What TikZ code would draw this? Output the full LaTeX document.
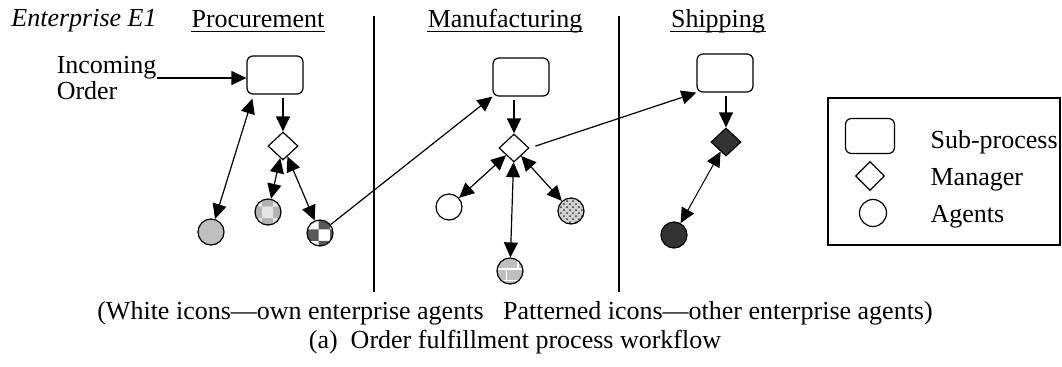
\documentclass[tikz,border=0pt]{standalone}
\usepackage{fontspec}
\setmainfont{Liberation Serif}
\usetikzlibrary{arrows.meta, positioning, shapes.geometric, patterns}

\begin{document}
\begin{tikzpicture}[x=0.5pt, y=-0.5pt, line width=0.6pt,
    font=\fontsize{13}{13}\selectfont,
    arr/.style={-{Triangle[length=7.5pt,width=7pt]}},
    darr/.style={{Triangle[length=7.5pt,width=7pt]}-{Triangle[length=7.5pt,width=7pt]}},
    subproc/.style={draw, rounded corners=3pt, minimum width=28pt, minimum height=19pt, inner sep=0pt},
    manager/.style={draw, diamond, minimum width=15pt, minimum height=14pt, inner sep=0pt},
    agent/.style={draw, circle, minimum size=13pt, inner sep=0pt},
    head/.style={anchor=base, inner sep=0pt}]

    \useasboundingbox (0,0) rectangle (1062,366);

    % Headings
    \node[head, font=\fontsize{13}{13}\selectfont\itshape] (ent) at (84,26) {Enterprise E1};
    \node[head] (proc) at (258,27) {Procurement};
    \node[head] (manu) at (505,27) {Manufacturing};
    \node[head] (ship) at (718,27) {Shipping};
    \foreach \n in {proc, manu, ship}
    \draw[line width=0.5pt] ([yshift=-2.2pt]\n.base west) -- ([yshift=-2.2pt]\n.base east);

    % Lanes
    \draw (374,16) -- (374,292);
    \draw (619,16) -- (619,292);

    % Procurement
    \node[align=left, anchor=east, inner sep=0pt] (inc) at (157,78) {Incoming\\Order};
    \node[subproc] (sp1) at (275,75) {};
    \node[manager] (mg1) at (283,146) {};
    \node[agent, fill=gray!50] (ag1) at (211,232) {};
    \node[agent, preaction={fill=gray!60}, pattern=checkerboard, pattern color=gray!20] (ag2) at (268,212) {};
    \node[agent, preaction={fill=white}, pattern=checkerboard, pattern color=black!65] (ag3) at (320,233) {};
    \draw[arr] (inc.east) -- (inc.east -| sp1.west);
    \draw[arr, shorten <=1.5pt] (sp1.south -| mg1) -- (mg1.north);
    \draw[darr] ([xshift=3pt,yshift=-2pt]sp1.south west) -- (ag1);
    \draw[darr] (mg1) -- (ag2);
    \draw[darr] (mg1) -- (ag3);

    % Manufacturing
    \node[subproc] (sp2) at (521,77) {};
    \node[manager] (mg2) at (514,148) {};
    \node[agent] (ag4) at (449,207) {};
    \node[agent, preaction={fill=gray!35}, pattern=crosshatch dots, pattern color=black!80] (ag6) at (571,211) {};
    \node[agent, preaction={fill=gray!50}, pattern=bricks, pattern color=white] (ag5) at (510,271) {};
    \draw[arr] (ag3) -- (sp2.south west);
    \draw[arr, shorten <=1.5pt] (sp2.south -| mg2) -- (mg2.north);
    \draw[darr] (mg2) -- (ag4);
    \draw[darr] (mg2) -- (ag5);
    \draw[darr] (mg2) -- (ag6);

    % Shipping
    \node[subproc] (sp3) at (725,73) {};
    \node[manager, fill=black!80] (mg3) at (726,142) {};
    \node[agent, fill=black!80] (ag7) at (674,235) {};
    \draw[arr, shorten <=3pt] (mg2.east) -- (sp3.south west);
    \draw[arr, shorten <=1.5pt] (sp3.south -| mg3) -- (mg3.north);
    \draw[darr, line width=0.5pt] (mg3) -- (ag7);

    % Legend
    \node[draw, minimum width=116pt, minimum height=73.5pt, inner sep=0pt] (lgd) at (944,171.5) {};
    \node[subproc, minimum width=24.5pt, minimum height=17.5pt] (lsp) at (870,136) {};
    \node[manager, minimum width=14.5pt, minimum height=14.5pt] (lmg) at (870,176) {};
    \node[agent, minimum size=13.5pt] (lag) at (873,213) {};
    \node[anchor=base west, inner sep=0pt] (lsptxt) at (930,148) {Sub-process};
    \node[anchor=base west, inner sep=0pt] (lmgtxt) at (930,185) {Manager};
    \node[anchor=base west, inner sep=0pt] (lagtxt) at (930,222) {Agents};

    % Captions
    \node[anchor=base, inner sep=0pt] (note) at (515,319) {(White icons—own enterprise agents\ \ \ Patterned icons—other enterprise agents)};
    \node[anchor=base, inner sep=0pt] (cap) at (515,348) {(a)\ \ Order fulfillment process workflow};
\end{tikzpicture}
\end{document}
